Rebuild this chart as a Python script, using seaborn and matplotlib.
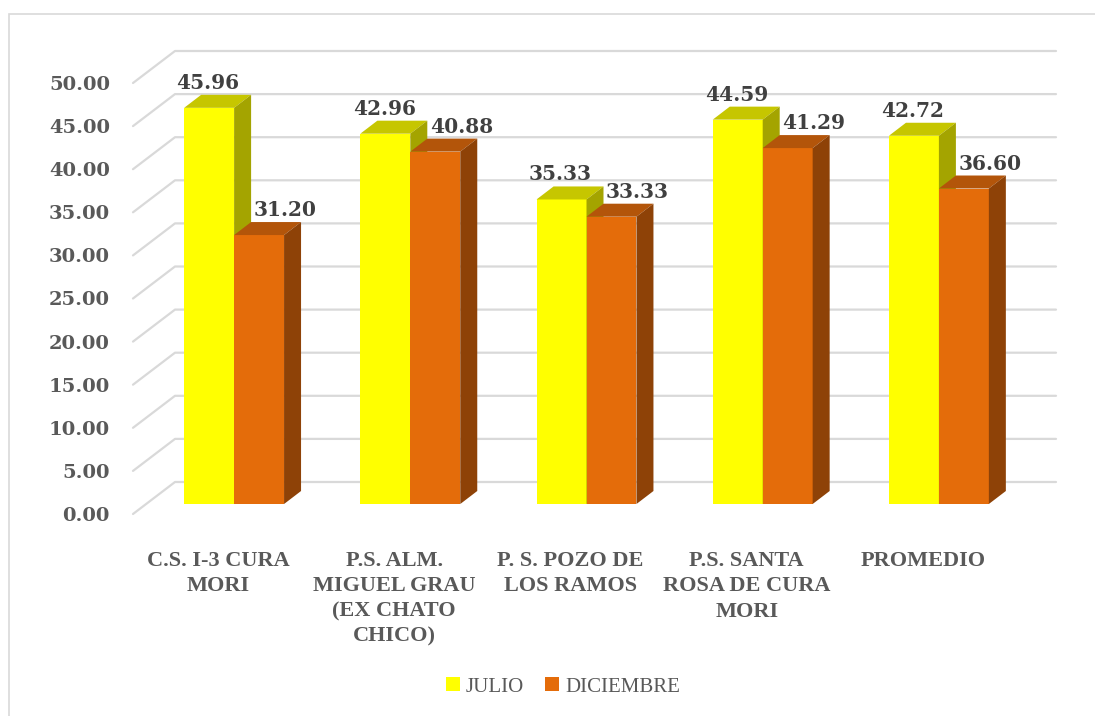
import pandas as pd
import numpy as np
import matplotlib.pyplot as plt
import seaborn as sns
from matplotlib.patches import Polygon, Patch, Rectangle
from matplotlib.transforms import ScaledTranslation

# datos del grafico
centros = ['C.S. I-3 CURA\nMORI',
           'P.S. ALM.\nMIGUEL GRAU\n(EX CHATO\nCHICO)',
           'P. S. POZO DE\nLOS RAMOS',
           'P.S. SANTA\nROSA DE CURA\nMORI',
           'PROMEDIO']
meses = ['JULIO', 'DICIEMBRE']
julio = [45.96, 42.96, 35.33, 44.59, 42.72]
diciembre = [31.20, 40.88, 33.33, 41.29, 36.60]
yticks = np.arange(0, 51, 5)

df = pd.DataFrame({'centro': centros * 2,
                   'mes': [meses[0]] * 5 + [meses[1]] * 5,
                   'valor': julio + diciembre})

# colores: frente, arriba, costado
frente = ['#FFFF00', '#E46C0A']
arriba = ['#C6C600', '#B3550A']
costado = ['#A4A400', '#8E4207']
gris = '#D9D9D9'
texto = '#404040'

sns.set_style('white')
fig = plt.figure(figsize=(10.95, 7.16), dpi=100)
ax = fig.add_axes([146 / 1095, 212 / 716, 881 / 1095, 431 / 716])

sns.barplot(data=df, x='centro', y='valor', hue='mes', palette=frente,
            width=0.567, gap=0, saturation=1, edgecolor='none',
            legend=False, ax=ax)
ax.set_xlim(-0.5, 4.5)
ax.set_ylim(0, 50)
sns.despine(ax=ax, left=True, bottom=True)
ax.set_xlabel('')
ax.set_ylabel('')

# pixeles por unidad, para el efecto 3D
px_x = 881 / 5
px_y = 431 / 50
prof_x, prof_y = 17 / px_x, 13 / px_y      # profundidad de la barra
fondo_x, fondo_y = 29 / px_x, 22 / px_y    # pared del fondo
piso_x, piso_y = -13 / px_x, -10 / px_y    # borde frontal del piso

# lineas de la cuadricula (pared izquierda + fondo)
for y in yticks:
    ax.plot([-0.5 + piso_x, -0.5 + fondo_x, 4.5 + fondo_x],
            [y + piso_y, y + fondo_y, y + fondo_y],
            color=gris, lw=1.6, zorder=0.5, clip_on=False)

# caras superior y lateral de cada barra
barras = []
for i, cont in enumerate(ax.containers):
    for p in cont.patches:
        barras.append((p.get_x(), i, p))
barras.sort(key=lambda b: b[0])
for k, (x0, i, p) in enumerate(barras):
    z = 2 + k
    w = p.get_width()
    h = p.get_height()
    p.set_zorder(z)
    top = Polygon([(x0, h), (x0 + w, h), (x0 + w + prof_x, h + prof_y),
                   (x0 + prof_x, h + prof_y)],
                  closed=True, facecolor=arriba[i], edgecolor='none',
                  zorder=z, clip_on=False)
    side = Polygon([(x0 + w, 0), (x0 + w, h), (x0 + w + prof_x, h + prof_y),
                    (x0 + w + prof_x, prof_y)],
                   closed=True, facecolor=costado[i], edgecolor='none',
                   zorder=z, clip_on=False)
    ax.add_patch(top)
    ax.add_patch(side)

# etiquetas de valores
desplaz = [-1, 26]
for i, cont in enumerate(ax.containers):
    for p in cont.patches:
        h = p.get_height()
        ax.annotate(f'{h:.2f}', (p.get_x() + p.get_width() / 2, h),
                    xytext=(desplaz[i] * 0.72, 25 * 0.72),
                    textcoords='offset points', ha='center', va='center',
                    fontsize=14.5, fontweight='bold', family='DejaVu Serif',
                    color=texto, zorder=50, annotation_clip=False)

# ejes
ax.set_yticks(yticks)
ax.set_yticklabels([f'{v:.2f}' for v in yticks])
ax.tick_params(axis='y', length=0, pad=26, labelsize=14, labelcolor='#595959')
for lbl in ax.get_yticklabels():
    lbl.set_fontweight('bold')
    lbl.set_family('DejaVu Serif')
    lbl.set_transform(lbl.get_transform() + ScaledTranslation(0, -0.10, fig.dpi_scale_trans))

ax.tick_params(axis='x', length=0, pad=34, labelsize=16, labelcolor='#595959')
for lbl in ax.get_xticklabels():
    lbl.set_fontweight('bold')
    lbl.set_family('Liberation Serif')
    lbl.set_linespacing(1.35)
    lbl.set_transform(lbl.get_transform() + ScaledTranslation(-0.16, 0, fig.dpi_scale_trans))

# leyenda
handles = [Patch(facecolor=c, edgecolor='none') for c in frente]
fig.legend(handles, meses, loc='center', bbox_to_anchor=(563 / 1095, 1 - 687 / 716),
           ncol=2, frameon=False, handlelength=0.65, handleheight=0.65,
           handletextpad=0.3, columnspacing=1.0,
           prop={'family': 'Liberation Serif', 'size': 15}, labelcolor='#595959')

# borde del area del grafico
fig.patches.append(Rectangle((9 / 1095, -0.1), 1.2, 1.1 - 14 / 716,
                             transform=fig.transFigure, fill=False,
                             edgecolor=gris, lw=1.2))

fig.savefig('out.png', dpi=100, facecolor='white')
